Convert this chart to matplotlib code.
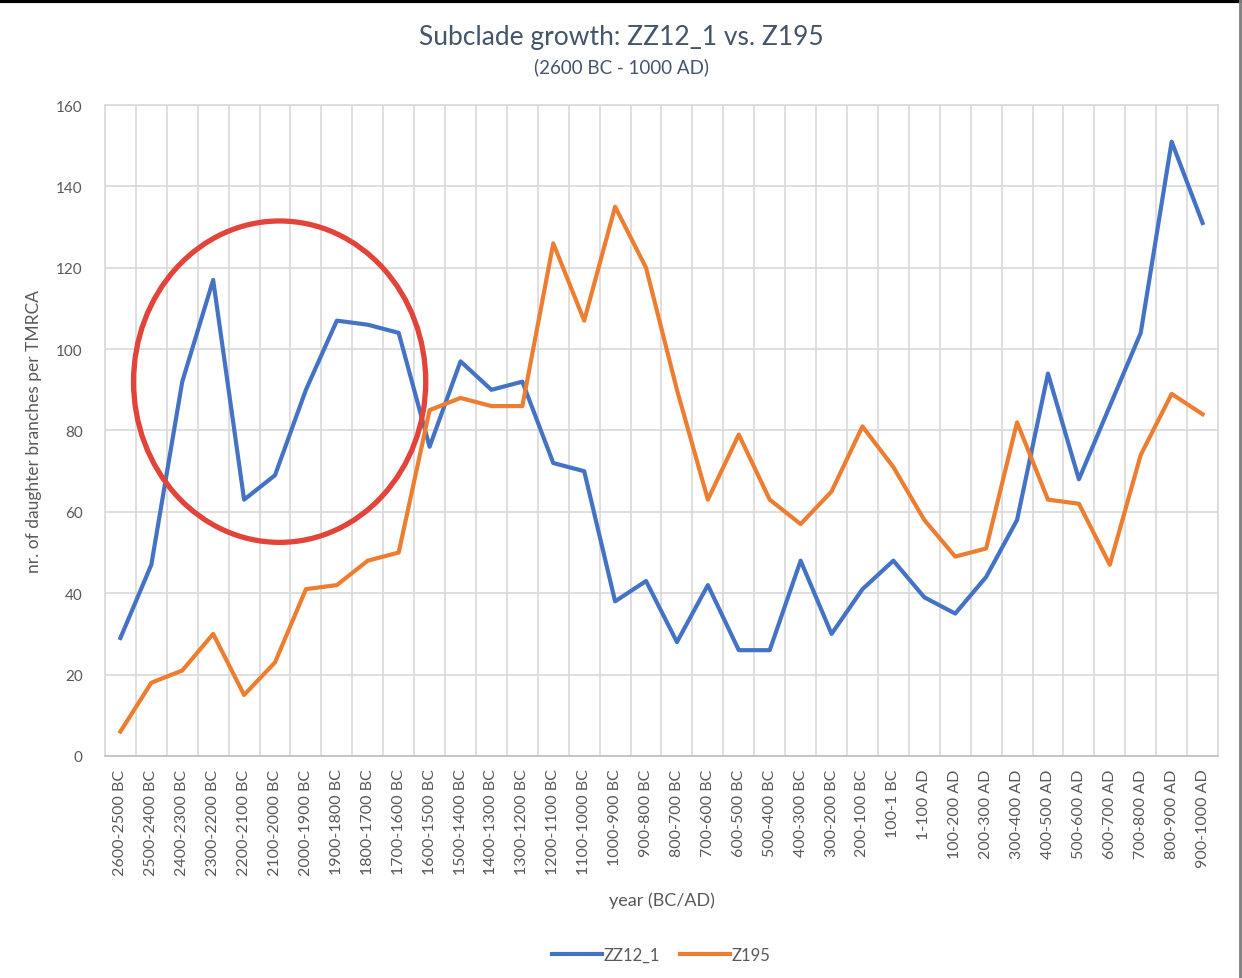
import matplotlib.pyplot as plt
from matplotlib.patches import Ellipse
from matplotlib.lines import Line2D

plt.rcParams["font.family"] = ["Lato", "DejaVu Sans"]

periods = [
    "2600-2500 BC", "2500-2400 BC", "2400-2300 BC", "2300-2200 BC", "2200-2100 BC",
    "2100-2000 BC", "2000-1900 BC", "1900-1800 BC", "1800-1700 BC", "1700-1600 BC",
    "1600-1500 BC", "1500-1400 BC", "1400-1300 BC", "1300-1200 BC", "1200-1100 BC",
    "1100-1000 BC", "1000-900 BC", "900-800 BC", "800-700 BC", "700-600 BC",
    "600-500 BC", "500-400 BC", "400-300 BC", "300-200 BC", "200-100 BC",
    "100-1 BC", "1-100 AD", "100-200 AD", "200-300 AD", "300-400 AD",
    "400-500 AD", "500-600 AD", "600-700 AD", "700-800 AD", "800-900 AD",
    "900-1000 AD",
]
zz12_1 = [29, 47, 92, 117, 63, 69, 90, 107, 106, 104,
          76, 97, 90, 92, 72, 70, 38, 43, 28, 42,
          26, 26, 48, 30, 41, 48, 39, 35, 44, 58,
          94, 68, 86, 104, 151, 131]
z195 = [6, 18, 21, 30, 15, 23, 41, 42, 48, 50,
        85, 88, 86, 86, 126, 107, 135, 120, 90, 63,
        79, 63, 57, 65, 81, 71, 58, 49, 51, 82,
        63, 62, 47, 74, 89, 84]

grey = "#595959"
grid_c = "#d9d9d9"

fig = plt.figure(figsize=(12.42, 9.79), dpi=100)
ax = fig.add_axes([0.0845, 0.2268, 0.8962, 0.6649])

x = list(range(len(periods)))
ax.plot(x, zz12_1, color="#4472C4", lw=3, label="ZZ12_1", solid_joinstyle="round")
ax.plot(x, z195, color="#ED7D31", lw=3, label="Z195", solid_joinstyle="round")

ax.set_xlim(-0.5, len(periods) - 0.5)
ax.set_ylim(0, 160)
ax.set_yticks(range(0, 161, 20))
ax.set_xticks(x)
ax.set_xticklabels(periods, rotation=90, fontsize=11.5, color=grey)
ax.tick_params(axis="y", labelsize=11, labelcolor=grey, length=0, pad=16)
ax.tick_params(axis="x", length=0, pad=9)

# category boundary gridlines, Excel style
for b in range(len(periods) + 1):
    ax.axvline(b - 0.5, color=grid_c, lw=1.2, zorder=0)
ax.grid(axis="y", color=grid_c, lw=1.2, zorder=0)
ax.set_axisbelow(True)
for s in ax.spines.values():
    s.set_color(grid_c)
    s.set_linewidth(1.2)
ax.spines["bottom"].set_color("#bfbfbf")

ax.set_ylabel("nr. of daughter branches per TMRCA", fontsize=12.5, color=grey, labelpad=10)
ax.set_xlabel("year (BC/AD)", fontsize=13, color=grey, labelpad=12)

fig.text(0.5, 0.962, "Subclade growth: ZZ12_1 vs. Z195", ha="center", va="center",
         fontsize=19, color="#44546A")
fig.text(0.5, 0.931, "(2600 BC - 1000 AD)", ha="center", va="center",
         fontsize=13.5, color="#44546A")

# red highlight circle
ax.add_patch(Ellipse((5.15, 92), 9.45, 79, fill=False, edgecolor="#E2443A",
                     lw=3.8, zorder=5, clip_on=False))

ax.legend(loc="upper center", bbox_to_anchor=(0.5, -0.27), ncol=2, frameon=False,
          fontsize=12, labelcolor=grey, handlelength=3, handletextpad=0.1,
          columnspacing=1.2)

# screenshot frame edges
fig.add_artist(Line2D([0, 1], [0.998, 0.998], color="black", lw=3, transform=fig.transFigure))
fig.add_artist(Line2D([0.9985, 0.9985], [0, 1], color="#7f7f7f", lw=2, transform=fig.transFigure))

fig.savefig("out.png", dpi=100)
